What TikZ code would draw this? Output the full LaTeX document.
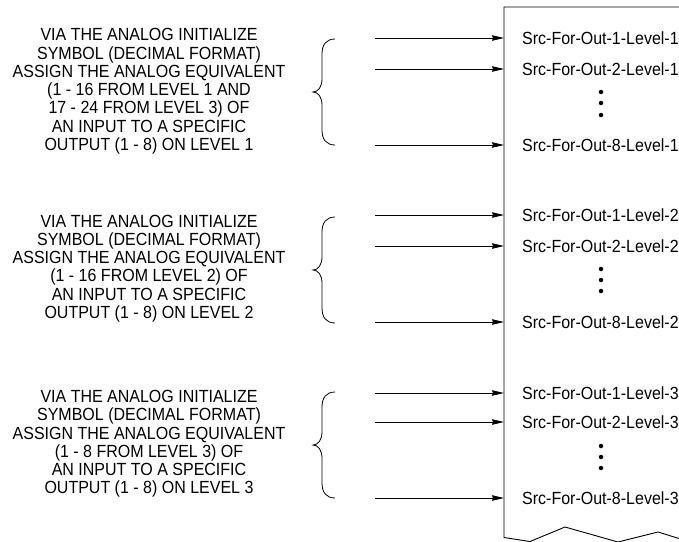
\documentclass[tikz,border=0pt]{standalone}
\usepackage{fontspec}
\setmainfont{Liberation Sans}
\usetikzlibrary{arrows.meta}
\newcommand\vstr[1]{\scalebox{1}[1.1]{#1}}
\newcommand\blk[1]{\scalebox{1}[1.1]{\begin{tabular}{@{}c@{}}#1\end{tabular}}}
\begin{document}
\begin{tikzpicture}[x=1pt,y=-1pt,
  lbl/.style={anchor=west,inner sep=0pt,font=\fontsize{16}{16.6}\selectfont},
  desc/.style={inner sep=0pt,font=\fontsize{16}{16.6}\selectfont},
  arr/.style={-{Stealth[length=12pt,width=5.5pt,inset=1pt]},line width=0.9pt},
  dotn/.style={circle,fill,inner sep=0pt,minimum size=4.5pt},
  edge/.style={line width=0.9pt},
  bracepic/.pic={\draw[line width=0.8pt] (22,-53) .. controls (13,-53) and (9,-47) .. (9,-38) -- (9,-13)
     .. controls (9,-5) and (5,0) .. (0,0) .. controls (5,0) and (9,5) .. (9,13) -- (9,38)
     .. controls (9,47) and (13,53) .. (22,53);}]
\useasboundingbox (0,0) rectangle (679,541);
\clip (0,0) rectangle (679,541);

% box outline
\draw[edge] (690,7) -- (504,7) -- (504,537.5) -- (530,541.5) -- (565,527) -- (618,542) -- (658,532) -- (700,545);

% rows
\foreach \n/\y/\t in {a1/38/Src-For-Out-1-Level-1, a2/69/Src-For-Out-2-Level-1, a8/145/Src-For-Out-8-Level-1,
                      b1/215/Src-For-Out-1-Level-2, b2/246/Src-For-Out-2-Level-2, b8/322/Src-For-Out-8-Level-2,
                      c1/393/Src-For-Out-1-Level-3, c2/422/Src-For-Out-2-Level-3, c8/498/Src-For-Out-8-Level-3}{
  \coordinate (s\n) at (375,\y);
  \coordinate (t\n) at (504,\y);
  \node[lbl] (l\n) at (522,\y) {\vstr{\t}};
  \draw[arr] (s\n) -- (t\n);
}

% dots
\foreach \n/\y in {a1/92,a2/103,a3/115,b1/269,b2/280,b3/291,c1/446,c2/457,c3/468}{
  \node[dotn] (d\n) at (601,\y) {};
}

% braces
\pic (bra) at (313,92) {bracepic};
\pic (brb) at (313,270) {bracepic};
\pic (brc) at (313,445) {bracepic};

% descriptions
\node[desc] (ta) at (149,92) {\blk{VIA THE ANALOG INITIALIZE\\SYMBOL (DECIMAL FORMAT)\\ASSIGN THE ANALOG EQUIVALENT\\(1 - 16 FROM LEVEL 1 AND\\17 - 24 FROM LEVEL 3) OF\\AN INPUT TO A SPECIFIC\\OUTPUT (1 - 8) ON LEVEL 1}};
\node[desc] (tb) at (149,269) {\blk{VIA THE ANALOG INITIALIZE\\SYMBOL (DECIMAL FORMAT)\\ASSIGN THE ANALOG EQUIVALENT\\(1 - 16 FROM LEVEL 2) OF\\AN INPUT TO A SPECIFIC\\OUTPUT (1 - 8) ON LEVEL 2}};
\node[desc] (tc) at (149,444.5) {\blk{VIA THE ANALOG INITIALIZE\\SYMBOL (DECIMAL FORMAT)\\ASSIGN THE ANALOG EQUIVALENT\\(1 - 8 FROM LEVEL 3) OF\\AN INPUT TO A SPECIFIC\\OUTPUT (1 - 8) ON LEVEL 3}};
\end{tikzpicture}
\end{document}
